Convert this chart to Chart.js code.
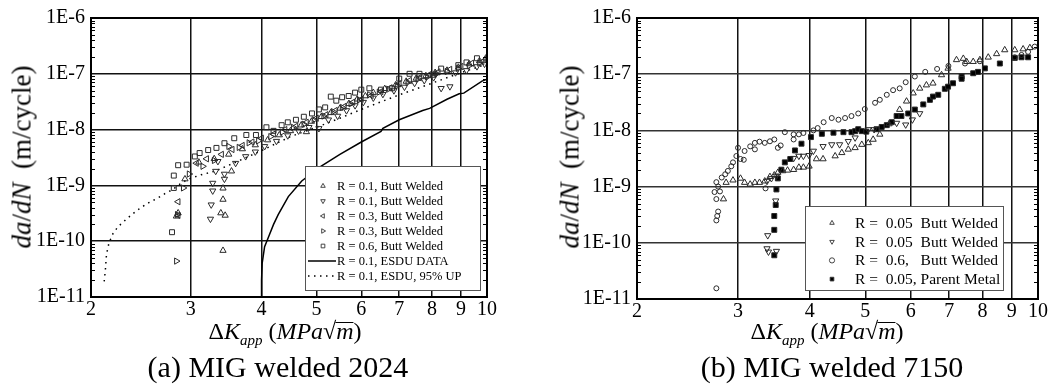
<!DOCTYPE html>
<html>
<head>
<meta charset="utf-8">
<script src="https://cdn.jsdelivr.net/npm/chart.js@4.4.1/dist/chart.umd.min.js"></script>
<style>
  body { margin: 0; background: #fff; }
  #wrap { position: relative; width: 1051px; height: 390px; overflow: hidden; background: #fff;
          font-family: "Liberation Serif", "Times New Roman", serif; color: #000; }
  canvas { position: absolute; top: 0; }
  .lbl { position: absolute; white-space: nowrap; line-height: 1; transform: translate(-50%, -50%); }
  .ytitle { font-size: 27px; transform: translate(-50%, -50%) rotate(-90deg); }
  .xtitle { font-size: 24px; }
  .xtitle sub { font-size: 15px; font-style: italic; vertical-align: -6px; line-height: 0; }
  .ov { position: relative; }
  .ov::before { content: ''; position: absolute; left: -1px; right: 0; top: 0.17em; border-top: 1.5px solid #000; }
  .cap { font-size: 30px; }
</style>
</head>
<body>
<div id="wrap">
  <canvas id="chartA" width="525" height="390" style="left:0"></canvas>
  <canvas id="chartB" width="526" height="390" style="left:525px"></canvas>

  <div class="lbl ytitle" style="left:22px;top:157px"><i>da</i>/<i>dN</i>&nbsp; (m/cycle)</div>
  <div class="lbl ytitle" style="left:570px;top:157px"><i>da</i>/<i>dN</i>&nbsp; (m/cycle)</div>

  <div class="lbl xtitle" style="left:285px;top:331px">&Delta;<i>K</i><sub>app</sub> (<i>MPa</i>&radic;<span class="ov"><i>m</i></span>)</div>
  <div class="lbl xtitle" style="left:827px;top:331px">&Delta;<i>K</i><sub>app</sub> (<i>MPa</i>&radic;<span class="ov"><i>m</i></span>)</div>

  <div class="lbl cap" style="left:278px;top:367px">(a) MIG welded 2024</div>
  <div class="lbl cap" style="left:832px;top:367px">(b) MIG welded 7150</div>
</div>

<script>
// axis ticks
const xTicks = [2, 3, 4, 5, 6, 7, 8, 9, 10];
const yTicks = [1e-11, 1e-10, 1e-9, 1e-8, 1e-7, 1e-6];
const yTickLabels = ['1E-11', '1E-10', '1E-9', '1E-8', '1E-7', '1E-6'];

// (a) MIG welded 2024  -  [dK, da/dN]
const legendA = ['R = 0.1, Butt Welded', 'R = 0.1, Butt Welded', 'R = 0.3, Butt Welded',
  'R = 0.3, Butt Welded', 'R = 0.6, Butt Welded', 'R = 0.1, ESDU DATA', 'R = 0.1, ESDU, 95% UP'];

const a_r01_up = [[2.83,2.8e-10],[2.85,3.2e-10],[2.93,1.3e-9],[3.39,3.2e-10],[3.45,2.9e-10],[3.42,5.6e-10],
  [3.42,8.9e-10],[3.42,6.8e-11],[3.54,1.8e-9],[3.1,2.6e-9],[3.3,3.0e-9],[3.5,3.6e-9],[3.7,4.5e-9],[3.9,5.3e-9],
  [4.1,6.5e-9],[4.3,8e-9],[4.5,9.5e-9],[4.8,9.1e-9],[4.7,1.2e-8],[4.9,1.4e-8],[5.1,1.7e-8],[5.3,2.0e-8],
  [5.5,2.4e-8],[5.7,2.9e-8],[5.9,3.5e-8],[6.1,4.0e-8],[6.3,4.6e-8],[6.6,5.4e-8],[6.9,6.3e-8],[7.2,7.3e-8],
  [7.5,8.3e-8],[7.8,9.2e-8],[8.1,1.05e-7],[8.5,1.15e-7],[8.9,1.3e-7],[9.3,1.5e-7],[9.7,1.7e-7],[9.95,1.9e-7]];

const a_r01_down = [[3.25,2.5e-10],[3.26,4.5e-10],[3.28,8e-10],[3.28,1.1e-9],[3.32,1.8e-9],[3.35,2.7e-9],
  [3.44,1.3e-9],[3.44,1.6e-9],[3.6,2.5e-9],[3.75,3.3e-9],[3.9,4.0e-9],[4.05,5.0e-9],[4.25,6.2e-9],[4.45,7.8e-9],
  [4.65,9.5e-9],[4.85,1.1e-8],[5.05,1.05e-8],[5.25,1.5e-8],[5.45,1.75e-8],[5.65,2.2e-8],[5.85,2.7e-8],
  [6.05,3.1e-8],[6.3,3.7e-8],[6.55,4.3e-8],[6.85,5.0e-8],[7.15,5.8e-8],[7.45,6.8e-8],[7.75,7.6e-8],
  [8.05,8.6e-8],[8.3,5.5e-8],[8.6,5.9e-8],[8.8,1.05e-7],[9.2,1.15e-7],[9.6,1.35e-7],[9.9,1.5e-7]];

const a_r03_left = [[2.85,5.1e-10],[2.85,2.9e-10],[3.07,2.5e-9],[3.2,3.0e-9],[3.4,3.6e-9],[3.55,4.4e-9],
  [3.7,5.2e-9],[3.85,6.0e-9],[4.0,7.0e-9],[4.2,8.3e-9],[4.4,1.0e-8],[4.6,1.15e-8],[4.8,1.35e-8],[5.0,1.6e-8],
  [5.2,1.85e-8],[5.4,2.2e-8],[5.6,2.6e-8],[5.8,3.1e-8],[6.0,3.5e-8],[6.25,4.1e-8],[6.5,4.8e-8],[6.75,5.6e-8],
  [7.0,6.6e-8],[7.3,7.6e-8],[7.6,8.5e-8],[7.9,9.6e-8],[8.2,1.08e-7],[8.6,1.2e-7],[9.0,1.35e-7],[9.4,1.55e-7],
  [9.8,1.65e-7]];

const a_r03_right = [[2.83,4.4e-11],[2.84,3.0e-10],[2.91,9e-10],[2.98,1.6e-9],[3.15,2.2e-9],[3.3,2.8e-9],
  [3.5,5e-9],[3.65,4.8e-9],[3.8,5.8e-9],[3.95,6.3e-9],[4.15,7.5e-9],[4.35,9e-9],[4.55,1.1e-8],[4.75,1.25e-8],
  [4.95,1.5e-8],[5.15,1.75e-8],[5.35,2.1e-8],[5.55,2.5e-8],[5.75,2.9e-8],[5.95,3.4e-8],[6.2,4.2e-8],
  [6.45,4.7e-8],[6.7,5.3e-8],[6.95,6.1e-8],[7.25,7.0e-8],[7.55,8.0e-8],[7.85,8.8e-8],[8.15,1.0e-7],
  [8.5,1.1e-7],[8.9,1.25e-7],[9.3,1.4e-7],[9.7,1.55e-7],[10.0,1.8e-7]];

const a_r06_square = [[2.78,1.45e-10],[2.80,1.5e-9],[2.80,9e-10],[2.85,2.3e-9],[2.95,2.35e-9],[3.05,3.3e-9],
  [3.11,3.8e-9],[3.22,4.3e-9],[3.33,4.7e-9],[3.44,5.7e-9],[3.58,7e-9],[3.76,8e-9],[3.91,8e-9],[4.08,1.1e-8],
  [4.20,9.5e-9],[4.34,1.2e-8],[4.45,1.35e-8],[4.6,1.5e-8],[4.75,1.7e-8],[4.91,1.95e-8],[5.05,2.3e-8],
  [5.18,2.5e-8],[5.30,3.9e-8],[5.42,3.3e-8],[5.55,3.8e-8],[5.7,4.0e-8],[5.85,4.6e-8],[6.0,5.2e-8],
  [6.2,5.5e-8],[6.5,5.2e-8],[6.8,5.5e-8],[7.0,8.2e-8],[7.3,1.0e-7],[7.6,1.0e-7],[8.05,9.6e-8],[8.3,1.24e-7],
  [8.9,1.43e-7],[9.2,1.6e-7],[9.6,1.9e-7]];

const a_esdu = [[4.0,1.0e-11],[4.0,2e-11],[4.01,4e-11],[4.05,8e-11],[4.11,1.15e-10],[4.2,2e-10],[4.28,3e-10],
  [4.46,6.3e-10],[4.71,1.2e-9],[5.09,2.2e-9],[5.5,3.6e-9],[6.0,6.0e-9],[6.5,9.3e-9],[6.55,1.05e-8],
  [7.0,1.5e-8],[7.7,2.2e-8],[7.92,2.4e-8],[8.5,3.5e-8],[8.93,4.4e-8],[9.1,4.5e-8],[9.8,7.4e-8],[10,8e-8]];

const a_esdu_up = [[2.11,1.9e-11],[2.12,3e-11],[2.13,5.8e-11],[2.15,9e-11],[2.18,1.3e-10],[2.23,1.8e-10],
  [2.29,2.3e-10],[2.37,3.1e-10],[2.45,4e-10],[2.53,4.9e-10],[2.62,5.9e-10],[2.70,7.1e-10],[2.78,8.3e-10],
  [2.87,1.05e-9],[2.96,1.28e-9],[3.13,1.55e-9],[3.31,1.8e-9],[3.6,2.6e-9],[4.0,4.2e-9],[4.5,7.5e-9],
  [5.0,1.1e-8],[5.5,1.6e-8],[6,2.3e-8],[7,4.2e-8],[8,6.8e-8],[9,1.05e-7],[10,1.5e-7]];

// (b) MIG welded 7150  -  [dK, da/dN]
const legendB = ['R =  0.05  Butt Welded', 'R =  0.05  Butt Welded', 'R =  0.6,   Butt Welded',
  'R =  0.05, Parent Metal'];

const b_r005_up = [[2.83,6e-10],[2.86,1.18e-9],[2.94,1.3e-9],[3.03,1.4e-9],[3.08,1.18e-9],[3.15,1.1e-9],
  [3.21,1.18e-9],[3.27,1.18e-9],[3.34,1.25e-9],[3.41,1.5e-9],[3.47,1.6e-9],[3.52,1.78e-9],[3.59,1.9e-9],
  [3.66,1.95e-9],[3.75,2e-9],[3.83,2.2e-9],[3.90,2.2e-9],[3.99,2.3e-9],[4.11,3.1e-9],[4.22,3.1e-9],
  [4.43,3.5e-9],[4.55,4e-9],[4.67,4.6e-9],[4.80,4.9e-9],[4.93,5.6e-9],[5.06,6e-9],[5.16,6.9e-9],
  [5.30,8.5e-9],[5.5,1.3e-8],[5.74,2.35e-8],[5.90,3.3e-8],[6.06,4.6e-8],[6.22,5.6e-8],[6.39,6.4e-8],
  [6.56,6.9e-8],[6.79,9.7e-8],[6.97,1.27e-7],[7.21,1.8e-7],[7.41,1.9e-7],[7.51,1.67e-7],[7.71,1.67e-7],
  [7.92,1.8e-7],[8.19,2e-7],[8.47,2.3e-7],[8.75,2.7e-7],[9.11,2.7e-7],[9.42,2.8e-7],[9.68,2.95e-7]];

const b_r005_down = [[3.38,1.35e-10],[3.37,7.9e-11],[3.39,6.9e-11],[3.50,7.1e-11],[3.49,5.6e-10],
  [3.37,1.25e-9],[3.43,1.4e-9],[3.50,1.55e-9],[3.75,3.2e-9],[3.83,3.5e-9],[3.90,3.5e-9],[3.99,3.6e-9],
  [4.06,4.3e-9],[4.22,5.2e-9],[4.37,5.6e-9],[4.51,5.6e-9],[4.67,6.4e-9],[4.80,7.4e-9],[5.06,1.04e-8],
  [5.18,1.04e-8],[5.67,1.35e-8],[5.88,1.26e-8],[6.04,1.55e-8],[6.22,2.0e-8]];

const b_r06_circle = [[2.75,1.55e-11],[2.75,2.5e-10],[2.76,3e-10],[2.77,3.6e-10],[2.75,6e-10],[2.73,8e-10],
  [2.77,1e-9],[2.79,8.2e-10],[2.75,1.2e-9],[2.81,1.45e-9],[2.85,1.66e-9],[2.88,1.9e-9],[2.92,2.3e-9],
  [2.94,2.7e-9],[2.98,3.5e-9],[3.0,4.9e-9],[3.03,3.1e-9],[3.07,3e-9],[3.08,4.3e-9],[3.15,5.2e-9],
  [3.21,6.0e-9],[3.21,4.6e-9],[3.27,6.3e-9],[3.34,6.0e-9],[3.41,6.4e-9],[3.47,6.9e-9],[3.52,4.9e-9],
  [3.56,5.4e-9],[3.35,9.3e-10],[3.62,9.3e-9],[3.75,8.5e-9],[3.75,6.9e-9],[3.83,8.5e-9],[3.90,9e-9],
  [4.06,1e-8],[4.13,1.1e-8],[4.23,1.4e-8],[4.37,1.66e-8],[4.49,1.55e-8],[4.61,1.66e-8],[4.73,1.8e-8],
  [4.86,2.0e-8],[4.99,2.4e-8],[5.2,3.1e-8],[5.30,3.5e-8],[5.45,4.3e-8],[5.59,5.2e-8],[5.74,5.6e-8],
  [5.88,7.2e-8],[6.10,9.1e-8],[6.36,1.1e-7],[6.67,1.24e-7],[6.98,1.4e-7],[7.46,1.55e-7],[7.92,1.7e-7],
  [9.11,2.0e-7],[9.36,2.2e-7],[9.61,2.5e-7],[9.87,3.1e-7]];

const b_r005_parent = [[3.47,6e-11],[3.47,1.7e-10],[3.47,3e-10],[3.49,4.7e-10],[3.50,8.9e-10],[3.52,1.4e-9],
  [3.57,2.0e-9],[3.62,2.7e-9],[3.70,3.1e-9],[3.77,4.4e-9],[3.87,5.8e-9],[4.02,7.6e-9],[4.20,8.7e-9],
  [4.40,9.1e-9],[4.58,9.3e-9],[4.73,9.3e-9],[4.80,9.7e-9],[4.86,1.05e-8],[4.93,9.7e-9],[5.02,9.5e-9],
  [5.23,1.05e-8],[5.34,1.15e-8],[5.45,1.24e-8],[5.56,1.4e-8],[5.67,1.8e-8],[5.78,1.8e-8],[5.94,2.0e-8],
  [6.10,2.35e-8],[6.31,2.9e-8],[6.48,3.5e-8],[6.56,4.0e-8],[6.70,4.3e-8],[6.88,5.5e-8],[6.97,6.0e-8],
  [7.11,6.9e-8],[7.36,9.1e-8],[7.36,8.3e-8],[7.71,1.04e-7],[7.86,1.1e-7],[8.08,1.27e-7],[8.58,1.55e-7],
  [9.11,1.95e-7],[9.36,2.0e-7],[9.61,2.0e-7]];

const pts = arr => arr.map(p => ({ x: p[0], y: p[1] }));

function marker(label, data, style, rot, r, fill) {
  return {
    label, data: pts(data), showLine: false,
    pointStyle: style, pointRotation: rot, pointRadius: r,
    pointBackgroundColor: fill, pointBorderColor: '#2a2a2a', pointBorderWidth: 1
  };
}

function curve(label, data, dash) {
  return {
    label, data: pts(data), showLine: true, pointRadius: 0,
    borderColor: '#000', borderWidth: 1.5, borderDash: dash, tension: 0, fill: false
  };
}

// frame, inner minor ticks and the boxed legend
const framePlugin = {
  id: 'frame',
  afterDraw(chart, args, opts) {
    const { ctx, chartArea: a } = chart;
    const y = chart.scales.y;
    ctx.save();
    ctx.strokeStyle = '#000';
    ctx.lineWidth = 1;
    ctx.beginPath();
    for (let e = -11; e < -6; e++) {
      for (let k = 2; k < 10; k++) {
        const py = Math.round(y.getPixelForValue(k * Math.pow(10, e))) + 0.5;
        ctx.moveTo(a.left, py); ctx.lineTo(a.left + 4, py);
        ctx.moveTo(a.right, py); ctx.lineTo(a.right - 4, py);
      }
    }
    ctx.stroke();
    ctx.lineWidth = 2;
    ctx.strokeRect(a.left, a.top, a.right - a.left, a.bottom - a.top);

    // legend
    const b = opts.box;
    ctx.fillStyle = '#fff';
    ctx.fillRect(b[0], b[1], b[2], b[3]);
    ctx.strokeStyle = '#555';
    ctx.lineWidth = 1;
    ctx.strokeRect(b[0] + 0.5, b[1] + 0.5, b[2], b[3]);
    ctx.font = opts.font;
    ctx.textBaseline = 'middle';
    ctx.textAlign = 'left';
    opts.labels.forEach((txt, i) => {
      const ds = chart.data.datasets[i];
      const ry = opts.firstY + i * opts.rowH;
      if (ds.showLine) {
        ctx.strokeStyle = '#000';
        ctx.lineWidth = 1.5;
        ctx.setLineDash(ds.borderDash || []);
        ctx.beginPath();
        ctx.moveTo(opts.lineX[0], ry); ctx.lineTo(opts.lineX[1], ry);
        ctx.stroke();
        ctx.setLineDash([]);
      } else {
        ctx.fillStyle = ds.pointBackgroundColor;
        ctx.strokeStyle = '#333';
        ctx.lineWidth = 0.9;
        Chart.helpers.drawPoint(ctx, {
          pointStyle: ds.pointStyle, rotation: ds.pointRotation,
          radius: opts.symR, borderWidth: 0.9
        }, opts.symX, ry);
      }
      ctx.fillStyle = '#000';
      ctx.fillText(txt, opts.textX, ry + 1);
    });
    ctx.restore();
  }
};

function makeChart(id, datasets, area, legend, gridY) {
  return new Chart(document.getElementById(id), {
    type: 'scatter',
    data: { datasets },
    plugins: [framePlugin],
    options: {
      responsive: false,
      animation: false,
      events: [],
      layout: { padding: { left: 0, top: area.top, right: area.right, bottom: 0 } },
      plugins: { legend: { display: false }, tooltip: { enabled: false }, frame: legend },
      scales: {
        x: {
          type: 'logarithmic', min: 2, max: 10,
          afterBuildTicks: s => { s.ticks = xTicks.map(v => ({ value: v })); },
          afterFit: s => { s.height = area.xh; },
          ticks: { callback: v => String(v), color: '#000', padding: 1, maxRotation: 0, autoSkip: false,
                   font: { family: 'Liberation Serif', size: 20 } },
          grid: { color: '#111', lineWidth: 1.5, drawTicks: false },
          border: { display: false }
        },
        y: {
          type: 'logarithmic', min: 1e-11, max: 1e-6,
          afterBuildTicks: s => { s.ticks = yTicks.map(v => ({ value: v })); },
          afterFit: s => { s.width = area.yw; },
          ticks: { callback: (v, i) => yTickLabels[i], color: '#000', padding: 6, autoSkip: false,
                   font: { family: 'Liberation Serif', size: 20 } },
          grid: { color: gridY, lineWidth: 1.5, drawTicks: false },
          border: { display: false }
        }
      }
    }
  });
}

makeChart('chartA', [
  marker(legendA[0], a_r01_up, 'triangle', 0, 3.6, 'rgba(255,255,255,0)'),
  marker(legendA[1], a_r01_down, 'triangle', 180, 3.6, 'rgba(255,255,255,0)'),
  marker(legendA[2], a_r03_left, 'triangle', 270, 3.6, 'rgba(255,255,255,0)'),
  marker(legendA[3], a_r03_right, 'triangle', 90, 3.6, 'rgba(255,255,255,0)'),
  marker(legendA[4], a_r06_square, 'rect', 0, 3.5, 'rgba(255,255,255,0)'),
  curve(legendA[5], a_esdu, []),
  curve(legendA[6], a_esdu_up, [1.5, 4.5])
], { top: 16, right: 38, xh: 93, yw: 91 }, {
  box: [305, 166, 175, 124], labels: legendA, font: '12.5px "Liberation Serif"',
  firstY: 186, rowH: 15, symX: 323, symR: 2.6, textX: 337, lineX: [308, 336]
}, '#111');

makeChart('chartB', [
  marker(legendB[0], b_r005_up, 'triangle', 0, 3.6, 'rgba(255,255,255,0)'),
  marker(legendB[1], b_r005_down, 'triangle', 180, 3.6, 'rgba(255,255,255,0)'),
  marker(legendB[2], b_r06_circle, 'circle', 0, 2.5, 'rgba(255,255,255,0)'),
  marker(legendB[3], b_r005_parent, 'rect', 0, 3.5, '#000')
], { top: 16, right: 13, xh: 91, yw: 112 }, {
  box: [280, 206, 198, 84], labels: legendB, font: '15.5px "Liberation Serif"',
  firstY: 223, rowH: 18.7, symX: 307, symR: 2.6, textX: 330, lineX: [0, 0]
}, '#333');
</script>
</body>
</html>
